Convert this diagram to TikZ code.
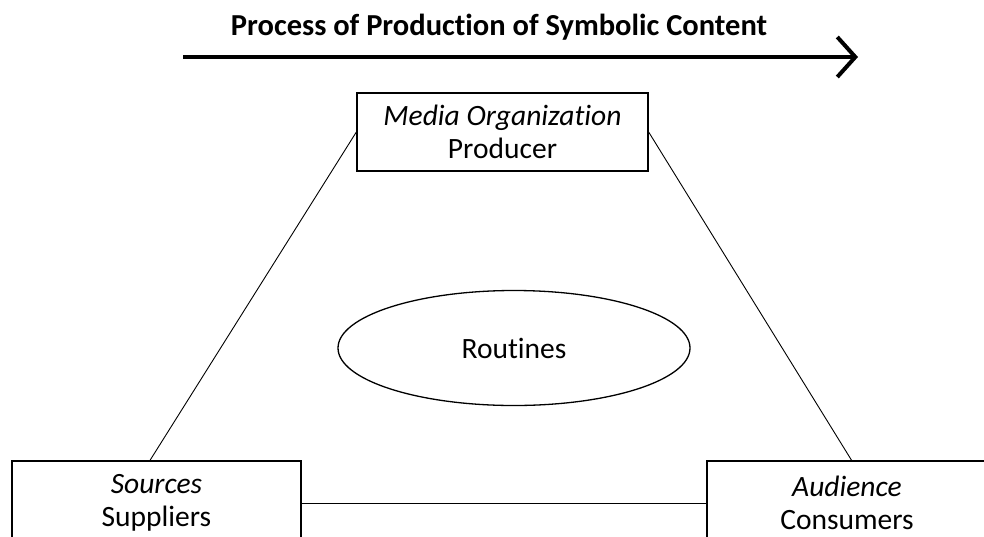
\documentclass[tikz,border=0pt]{standalone}
\usepackage{fontspec}
\setmainfont{Carlito}[Ligatures=NoCommon]
\usetikzlibrary{arrows.meta,shapes.geometric}
\begin{document}
\begin{tikzpicture}[x=1pt,y=-1pt,
  txt/.style={font=\fontsize{29.5}{33}\selectfont},
  box/.style={txt,draw=black,line width=1.3pt,rectangle,inner sep=0pt,align=center},
  link/.style={draw=black,line width=0.9pt},
  big/.style={line width=4pt,-{Straight Barb[length=18pt,width=40pt,line width=4pt]}}]
\clip (0,0) rectangle (984,536);
\fill[white] (0,0) rectangle (984,536);
\node[font=\fontsize{30.5}{34}\selectfont\bfseries] (title) at (499,27) {Process of Production of Symbolic Content};
\coordinate (a0) at (183,57);
\coordinate (a1) at (858,57);
\draw[big] (a0) -- (a1);
\node[box,minimum width=291pt,minimum height=78pt] (media) at (502.5,132) {\textit{Media Organization}\\Producer};
\node[txt,draw=black,line width=1.3pt,ellipse,minimum width=352pt,minimum height=115pt] (rout) at (514,348) {Routines};
\node[box,minimum width=289pt,minimum height=84pt] (src) at (156.5,503) {\textit{Sources}\\Suppliers};
\node[box,minimum width=280pt,minimum height=84pt] (aud) at (847,503) {\textit{Audience}\\Consumers};
\draw[link] (media.west) -- (src.north -| 150,0);
\draw[link] (media.east) -- (852,461);
\draw[link] (src.east) -- (aud.west);
\end{tikzpicture}
\end{document}
